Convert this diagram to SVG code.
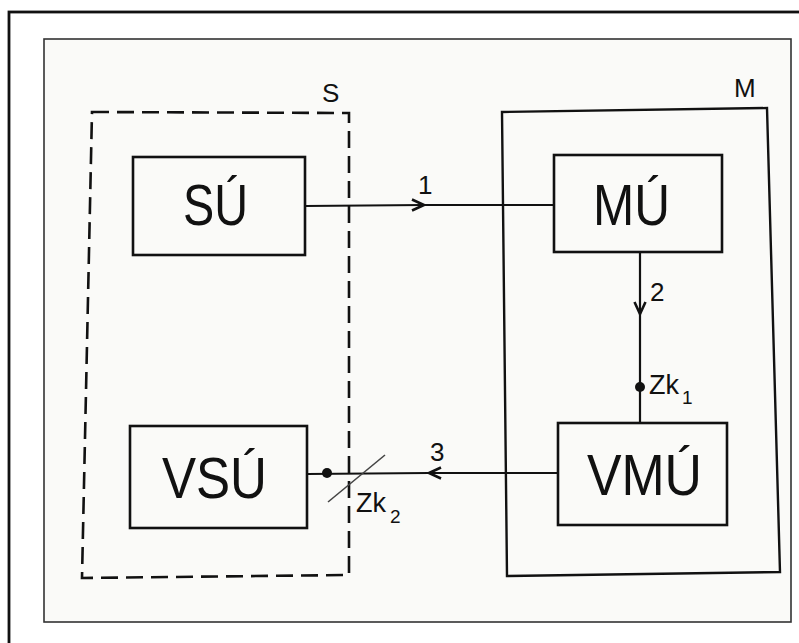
<svg xmlns="http://www.w3.org/2000/svg" width="799" height="643" viewBox="0 0 799 643">
  <style>
    .frame { fill: none; stroke: #111; }
    .box { fill: none; stroke: #111; stroke-width: 2.6; }
    .big { font-family: "Liberation Sans", Arial, sans-serif; font-size: 58px; fill: #111; }
    .lbl { font-family: "Liberation Sans", Arial, sans-serif; font-size: 26px; fill: #111; }
    .zk { font-family: "Liberation Sans", Arial, sans-serif; font-size: 27px; fill: #111; }
    .sub { font-family: "Liberation Sans", Arial, sans-serif; font-size: 19px; fill: #111; }
    .conn { fill: none; stroke: #111; stroke-width: 2.2; }
  </style>
  <defs>
    <marker id="arr" viewBox="0 0 14 14" refX="13" refY="7" markerWidth="14" markerHeight="14" markerUnits="userSpaceOnUse" orient="auto">
      <path d="M1,1.5 L13,7 L1,12.5" fill="none" stroke="#111" stroke-width="2.6"/>
    </marker>
  </defs>
  <rect x="0" y="0" width="799" height="643" fill="#ffffff"/>
  <rect x="9" y="12" width="830" height="670" class="frame" stroke-width="2.8"/>
  <rect x="44" y="39" width="747" height="583" fill="#fafaf8" stroke="#333" stroke-width="1.6"/>

  <g id="S">
    <path d="M92,112 L349,113 L349,575 L82,578 Z" fill="none" stroke="#111" stroke-width="2.6" stroke-dasharray="17 8"/>
    <text class="lbl" x="322" y="102">S</text>
  </g>
  <g id="M">
    <path d="M502,112 L767,108 L780,572 L507,576 Z" fill="none" stroke="#111" stroke-width="2.4"/>
    <text class="lbl" x="734" y="97">M</text>
  </g>

  <g id="SU">
    <rect x="133" y="157" width="172" height="98" class="box"/>
    <text class="big" x="183" y="225" textLength="65" lengthAdjust="spacingAndGlyphs">SÚ</text>
  </g>
  <g id="MU">
    <rect x="554" y="155" width="168" height="97" class="box"/>
    <text class="big" x="593" y="225" textLength="77" lengthAdjust="spacingAndGlyphs">MÚ</text>
  </g>
  <g id="VSU">
    <rect x="130" y="426" width="177" height="102" class="box"/>
    <text class="big" x="162" y="498" textLength="105" lengthAdjust="spacingAndGlyphs">VSÚ</text>
  </g>
  <g id="VMU">
    <rect x="558" y="423" width="169" height="102" class="box"/>
    <text class="big" x="587" y="495" textLength="115" lengthAdjust="spacingAndGlyphs">VMÚ</text>
  </g>

  <g id="connectors">
    <path class="conn" d="M305,206 L424,205 L554,205" marker-mid="url(#arr)"/>
    <text class="lbl" x="418" y="194">1</text>
    <path class="conn" d="M640,252 L640,314 L640,423" marker-mid="url(#arr)"/>
    <text class="lbl" x="650" y="301">2</text>
    <circle cx="640" cy="387" r="5" fill="#111"/>
    <text class="zk" x="649" y="394">Zk</text>
    <text class="sub" x="682" y="404">1</text>
    <path class="conn" d="M558,473 L429,473 L307,474" marker-mid="url(#arr)"/>
    <text class="lbl" x="430" y="461">3</text>
    <circle cx="327" cy="473" r="5" fill="#111"/>
    <line x1="328" y1="502" x2="385" y2="455" stroke="#444" stroke-width="1.6"/>
    <text class="zk" x="356" y="512">Zk</text>
    <text class="sub" x="390" y="523">2</text>
  </g>
</svg>
